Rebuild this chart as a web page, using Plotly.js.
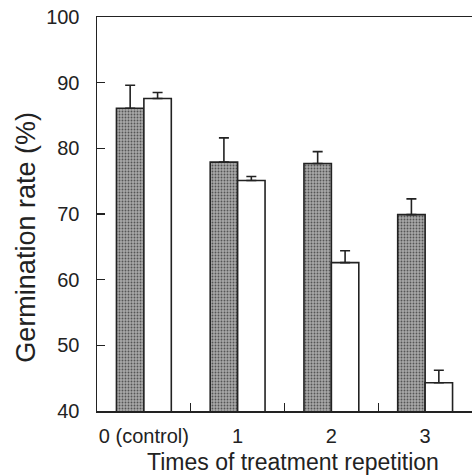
<!DOCTYPE html>
<html>
<head>
<meta charset="utf-8">
<script src="https://cdn.plot.ly/plotly-3.0.1.min.js"></script>
<style>html,body{margin:0;padding:0;background:#fff;}#chart{width:472px;height:476px;}</style>
</head>
<body>
<div id="chart"></div>
<script>
const categories = ["0 (control)", "1", "2", "3"];
const darkValues = [86.1, 77.9, 77.7, 69.9];
const darkErrors = [3.5, 3.7, 1.8, 2.4];
const whiteValues = [87.6, 75.1, 62.6, 44.3];
const whiteErrors = [0.9, 0.6, 1.8, 1.9];
const zeros = [0, 0, 0, 0];

const lineCol = '#222';
const traces = [
  {
    type: 'bar', x: categories, y: darkValues, name: 'A',
    marker: {
      color: '#8c8c8c',
      pattern: {shape: '.', bgcolor: '#a8a8a8', fgcolor: '#555555', size: 3, solidity: 0.3},
      line: {color: lineCol, width: 1.6}
    },
    error_y: {type: 'data', symmetric: false, array: darkErrors, arrayminus: zeros, color: lineCol, thickness: 1.6, width: 5}
  },
  {
    type: 'bar', x: categories, y: whiteValues, name: 'B',
    marker: {color: '#ffffff', line: {color: lineCol, width: 1.6}},
    error_y: {type: 'data', symmetric: false, array: whiteErrors, arrayminus: zeros, color: lineCol, thickness: 1.6, width: 5}
  }
];

const layout = {
  width: 472, height: 476,
  margin: {l: 97, r: 0, t: 17, b: 65},
  paper_bgcolor: '#fff', plot_bgcolor: '#fff',
  showlegend: false,
  barmode: 'group', bargap: 0.415, bargroupgap: 0,
  font: {family: 'Liberation Sans, Arial, sans-serif', color: '#222'},
  xaxis: {
    type: 'category', tickangle: 0,
    showline: true, linecolor: lineCol, linewidth: 1.5, mirror: true,
    ticks: 'inside', tickson: 'boundaries', ticklen: 8, tickcolor: lineCol, tickwidth: 1.2,
    tickfont: {size: 20, color: '#222'}, ticklabelstandoff: 6,
    showgrid: false, zeroline: false
  },
  yaxis: {
    range: [40, 100], tickvals: [40, 50, 60, 70, 80, 90, 100],
    showline: true, linecolor: lineCol, linewidth: 1.5, mirror: false,
    ticks: 'inside', ticklen: 8, tickcolor: lineCol, tickwidth: 1.2,
    tickfont: {size: 20, color: '#222'}, ticklabelstandoff: 12,
    showgrid: false, zeroline: false
  },
  annotations: [
    {
      text: 'Times of treatment repetition', xref: 'paper', yref: 'paper',
      x: 0.523, y: 0, yshift: -51, xanchor: 'center', yanchor: 'middle', borderpad: 0,
      showarrow: false, font: {size: 23, color: '#222'}
    },
    {
      text: 'Germination rate (%)', xref: 'paper', yref: 'paper', textangle: -90,
      x: 0, xshift: -71, y: 0.44, xanchor: 'center', yanchor: 'middle',
      showarrow: false, font: {size: 27, color: '#222'}
    }
  ]
};

Plotly.newPlot('chart', traces, layout, {displayModeBar: false, staticPlot: true});
</script>
</body>
</html>
